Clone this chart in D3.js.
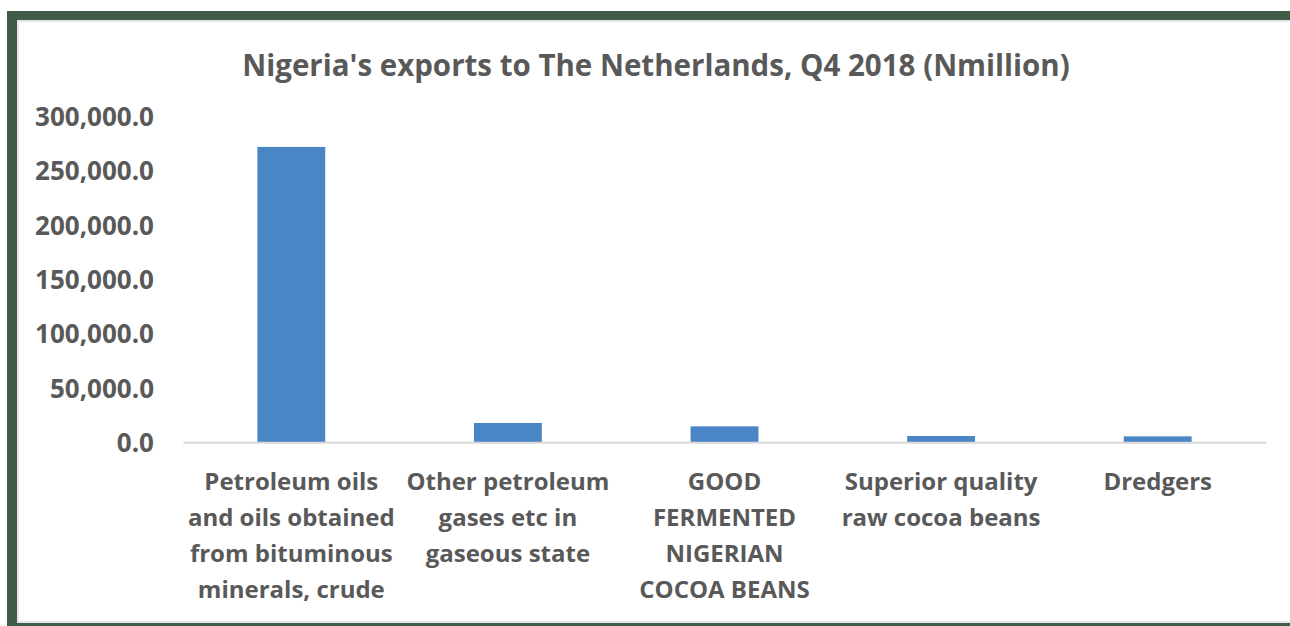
<!DOCTYPE html>
<html>
<head>
<meta charset="utf-8">
<script src="https://cdn.jsdelivr.net/npm/d3@7"></script>
<style>
  html, body { margin: 0; padding: 0; background: #ffffff; }
  svg { display: block; }
  text { font-family: "Open Sans", Lato, sans-serif; font-weight: bold; fill: #595959; }
</style>
</head>
<body>
<svg id="chart" width="1290" height="626"></svg>
<script>
// Export values by product, in million naira
const categories = [
  ["Petroleum oils", "and oils obtained", "from bituminous", "minerals, crude"],
  ["Other petroleum", "gases etc in", "gaseous state"],
  ["GOOD", "FERMENTED", "NIGERIAN", "COCOA BEANS"],
  ["Superior quality", "raw cocoa beans"],
  ["Dredgers"]
];
const values = [272000, 17800, 14700, 5800, 5500];
const yTicks = [0, 50000, 100000, 150000, 200000, 250000, 300000];
const title = "Nigeria's exports to The Netherlands, Q4 2018 (Nmillion)";

const svg = d3.select("#chart");
const W = 1290, H = 626;

// Frame: dark green border on top, left and bottom, with a light inner edge
svg.append("rect").attr("x", 7).attr("y", 11).attr("width", W - 7).attr("height", H - 11)
  .attr("fill", "#3e5c47");
svg.append("rect").attr("x", 17).attr("y", 20).attr("width", W - 17).attr("height", 603)
  .attr("fill", "#e6e6e6");
svg.append("rect").attr("x", 19).attr("y", 22).attr("width", W - 19).attr("height", 599)
  .attr("fill", "#ffffff");

const plot = { left: 183, right: 1266, top: 116.5, bottom: 442.3 };

const x = d3.scaleBand()
  .domain(d3.range(categories.length))
  .range([plot.left, plot.right])
  .paddingInner(0.6866)
  .paddingOuter(0.3433);

const y = d3.scaleLinear()
  .domain([0, 300000])
  .range([plot.bottom, plot.top]);

// Title
svg.append("text")
  .attr("x", 656).attr("y", 76)
  .attr("text-anchor", "middle")
  .style("font-size", "29.5px")
  .text(title);

// Value axis labels (no tick marks or line)
const yAxis = d3.axisLeft(y)
  .tickValues(yTicks)
  .tickFormat(d3.format(",.1f"))
  .tickSize(0)
  .tickPadding(0);
const yg = svg.append("g")
  .attr("transform", "translate(154,0)")
  .call(yAxis);
yg.select(".domain").remove();
yg.selectAll("text")
  .attr("dy", "0.35em")
  .style("font-size", "26px")
  .style("font-family", "'Open Sans', Lato, sans-serif")
  .attr("fill", "#595959");

// Bars
svg.append("g").selectAll("rect")
  .data(values)
  .join("rect")
  .attr("x", (d, i) => x(i))
  .attr("width", x.bandwidth())
  .attr("y", d => y(d))
  .attr("height", d => y(0) - y(d))
  .attr("fill", "#4a86c5");

// Category axis line
const xAxis = d3.axisBottom(x).tickSize(0).tickFormat("");
const xg = svg.append("g")
  .attr("transform", `translate(0,${plot.bottom})`)
  .call(xAxis);
xg.select(".domain").attr("stroke", "#d9d9d9").attr("stroke-width", 2);

// Multi-line category labels
const labels = svg.append("g").selectAll("text")
  .data(categories)
  .join("text")
  .attr("text-anchor", "middle")
  .style("font-size", "24px")
  .attr("transform", (d, i) => `translate(${x(i) + x.bandwidth() / 2},490)`);
labels.selectAll("tspan")
  .data(d => d)
  .join("tspan")
  .attr("x", 0)
  .attr("y", (d, j) => j * 36)
  .text(d => d);
</script>
</body>
</html>
